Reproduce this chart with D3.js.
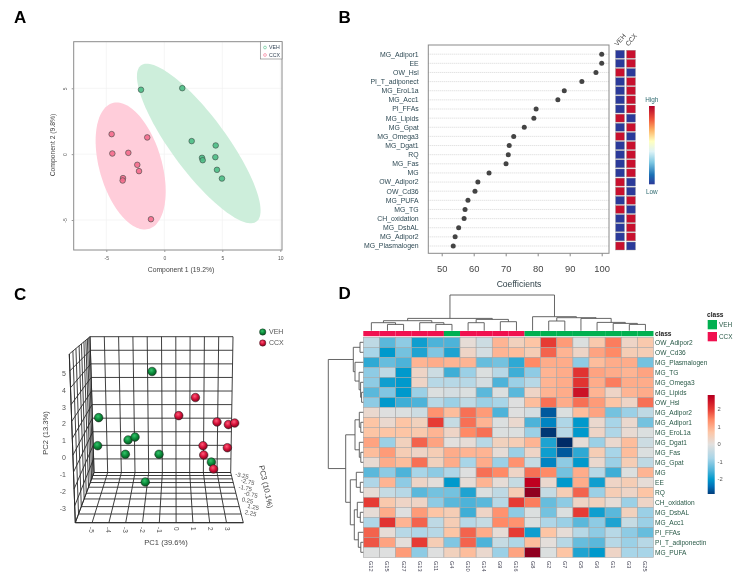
<!DOCTYPE html>
<html><head><meta charset="utf-8">
<script src="https://cdn.jsdelivr.net/npm/d3@7/dist/d3.min.js"></script>
<style>
html,body{margin:0;padding:0;background:#fff}
svg{display:block;filter:blur(0.3px)}
text{font-family:"Liberation Sans",Arial,sans-serif}
</style></head><body>
<svg id="c" width="738" height="582"></svg>
<script>
// ---------- Panel A ----------
const plsVEH=[[-2.01,4.89],[1.55,5.01],[2.36,.99],[4.43,.66],[4.40,-.23],[3.25,-.28],[3.31,-.46],[4.54,-1.19],[4.97,-1.85]];
const plsCCX=[[-4.54,1.52],[-1.47,1.27],[-4.48,.05],[-3.1,.1],[-2.33,-.81],[-2.18,-1.29],[-3.56,-1.82],[-3.59,-2],[-1.15,-4.94]];
const ellipseVEH=[2.97,.81,5.33,6.06,2.57];
const ellipseCCX=[-2.9,-.9,3.02,4.82,1.98];
const ticksAx=[-5,0,5,10];
const ticksAy=[-5,0,5];
// ---------- Panel B ----------
const vipNames=["MG_Adipor1","EE","OW_Hsl","PI_T_adiponect","MG_EroL1a","MG_Acc1","PI_FFAs","MG_Lipids","MG_Gpat","MG_Omega3","MG_Dgat1","RQ","MG_Fas","MG","OW_Adipor2","OW_Cd36","MG_PUFA","MG_TG","CH_oxidation","MG_DsbAL","MG_Adipor2","MG_Plasmalogen"];
const vipCoef=[100,100,98.2,93.8,88.3,86.3,79.5,78.8,75.8,72.5,71.1,70.8,70.1,64.8,61.3,60.4,58.2,57.3,57,55.3,54.2,53.6];
const vipVEH=[0,0,1,0,0,0,0,1,0,1,0,0,0,0,1,1,0,1,0,0,0,1];
const vipGroups=["VEH","CCX"];
const ticksB=[50,60,70,80,90,100];
// ---------- Panel C ----------
const pcaVEH=[[-1.35,5.1],[-4.49,2.37],[-4.55,.71],[-2.76,1.05],[-2.35,1.22],[-2.92,.2],[-.94,.2],[-1.75,-1.44],[2.14,-.26]];
const pcaCCX=[[1.2,3.56],[.22,2.49],[2.47,2.11],[3.14,1.96],[3.51,2.05],[1.65,.71],[3.08,.59],[1.69,.16],[2.27,-.67]];
const ticksPC1=[-5,-4,-3,-2,-1,0,1,2,3];
const ticksPC2=[-3,-2,-1,0,1,2,3,4,5];
const ticksPC3=["-3.25","-2.75","-1.75","-0.75","0.25","1.25","2.25"];
const floorDepth=[0,.06,.127,.2,.293,.413,.527,.68,.827,1];
// ---------- Panel D ----------
const heatCols=["G12","G15","G27","G13","G11","G4","G10","G14","G9","G16","G8","G2","G7","G5","G6","G1","G3","G25"];
const colClass=["CCX","CCX","CCX","CCX","CCX","VEH","CCX","CCX","CCX","CCX","VEH","VEH","VEH","VEH","VEH","VEH","VEH","VEH"];
const heatRows=["OW_Adipor2","OW_Cd36","MG_Plasmalogen","MG_TG","MG_Omega3","MG_Lipids","OW_Hsl","MG_Adipor2","MG_Adipor1","MG_EroL1a","MG_Dgat1","MG_Fas","MG_Gpat","MG","EE","RQ","CH_oxidation","MG_DsbAL","MG_Acc1","PI_FFAs","PI_T_adiponectin","MG_PUFA"];
const heatValues=[
[-.5,-1.4,-1,-1.9,-1.5,-1.5,.1,-.3,.9,.4,.7,2,1.2,-.1,.6,1.5,.3,.6],
[-.8,-2,-1.2,-1.8,-1.1,-1.8,.3,-.2,.9,.8,.5,1.7,.9,.3,1.1,1.4,.5,.5],
[-1.7,-1.3,-1.5,.9,1,.9,.9,-1.3,-1.2,-1.7,1.4,1,1,-1,.8,1,1,-1.2],
[-1,-.5,-2,.3,-.3,-1.6,-.9,-.1,-.6,-1.6,-1,.9,1,2.1,1.1,1,.9,1.1],
[-1,-1.9,-2,.3,-.6,-.6,-.6,-.2,-1.5,-.9,-.6,.9,1,2.1,1,1.5,1,1],
[-1.4,-1.1,-2,-.9,-.1,-.2,-.1,-1.4,-.1,-1.4,.3,.9,1,2.5,.9,.3,.9,1],
[-1,-2,-1.6,-1.5,-.6,-.9,-.5,-.9,-.8,-.05,.8,1.6,1,1.6,1.2,.7,.3,1.6],
[.2,-.05,-.1,-.3,1.3,.8,1.6,1.2,-1.5,-.05,-.2,-2.6,-.1,.8,1.1,-1.2,-.9,-.5],
[.7,.2,.7,.4,2,-.4,1.6,.9,-.1,.2,-1.5,-2.2,-.7,-2,.2,-.8,.2,-1.2],
[.7,.7,.7,.6,.9,.3,1.4,1.6,-.1,-.1,-.9,-2.9,-.6,-2,.3,-.7,.15,-.1],
[1.1,-.9,.4,1.7,1.1,0,.1,-.6,.4,.5,.9,-1.8,-3,.1,-.9,.2,.8,-.3],
[.8,1.2,.5,.3,.5,1,.9,.9,.1,-.9,.3,-1.9,-2.6,-1.7,.5,-.8,.8,-.1],
[.15,1,.8,1.6,.4,1,-.8,1,-.9,1.3,-.4,-2.2,-1,-2,.2,-.9,.5,-.5],
[-1.4,-1,-1.5,-.8,-1,-.7,-.05,1.6,1.4,.3,1.6,1.4,-1.2,1,-.6,-1.6,-.1,.9],
[-.7,.9,-1,.3,.05,-2,.1,.9,.1,-.4,2.7,.2,-2,1,-1.9,.3,.5,.1],
[.1,-.4,-.6,-1.4,-1.2,-1.2,-1.8,-.1,-.5,.5,3,-.4,.5,1.7,-.9,.5,.3,.7],
[2,.6,.3,.3,-1,-1.4,-1.5,-1.4,-.6,2,1.5,-1.3,-1,.3,.4,.1,-.9,.3],
[.1,1,-.05,1.2,.7,.5,-1.6,.3,1.3,-1,-.1,-1.2,-.1,2,-1.9,-1.4,.4,-.9],
[-.7,2.1,.9,1.7,-.5,.5,-.6,-.4,1.4,1.3,-.1,-.7,-.9,-1.4,-1,-1.8,-.4,-.9],
[1.7,.1,-.6,-.7,-.6,.7,1.7,1,.1,2,-1.9,.7,.1,-.6,-1,-.6,-1,-1.3],
[1.8,1.1,.05,2,.5,-1.1,1.7,-1.5,-.4,-.7,.8,.05,-.6,-1.3,-1.4,-.6,-.9,-.6],
[-.05,-.05,1.2,-1,-.05,.4,.8,.2,-.9,1.1,3,-.1,.7,-1.8,-2,.3,-.8,-.8]];
// dendrograms: [height, left, right]; a bare number is a leaf index
const colTree=[35.7,
 [12.3,[10,[8,0,[6.3,1,2]],[8,3,[6.3,4,5]]],[11.3,[8,6,7],[9,8,9]]],
 [14,10,[13,[9.7,11,12],[12.3,13,[8.3,14,[7.3,15,[6.3,16,17]]]]]]];
const rowTree=[35,
 [10,[3.3,0,1],[8.3,2,[4.2,3,[2.7,4,[1.7,5,6]]]]],
 [17.6,[8.3,[4,7,[2.5,8,9]],[4,10,[2.5,11,12]]],
  [13,[7,13,[3,14,15]],[9,[6,16,[3,17,18]],[5,19,[2.5,20,21]]]]]];
const heatDomain=[-3,-2.4,-2,-1.5,-.8,0,.7,1.4,2,2.7,3];
const heatRange=["#002b66","#0070b8","#0099cc","#4db3d9","#a8d5e8","#e2e0de","#fdc5a5","#ff8a66","#e63b34","#c00020","#900020"];
const ticksD=[-2,-1,0,1,2];
const classNames=["VEH","CCX"];
const classColors=["#00b050","#f0104f"];

const svg=d3.select("#c");
const defs=svg.append("defs");
const txt=(g,x,y,s,size,fill,opt={})=>{const t=g.append("text").attr("x",x).attr("y",y).text(s)
  .attr("font-size",size).attr("fill",fill).attr("text-anchor",opt.anchor||"start");
  if(opt.weight)t.attr("font-weight",opt.weight);
  if(opt.rot!==undefined)t.attr("transform",`rotate(${opt.rot} ${x} ${y})`);
  return t;};
[["A",14,23],["B",338.5,23],["C",14,300],["D",338.5,299]].forEach(d=>
  txt(svg,d[1],d[2],d[0],17,"#000",{weight:"bold"}));

// ===== A =====
(function(){
 const g=svg.append("g");
 const X=d3.scaleLinear().domain([-5,10]).range([106.3,280.3]);
 const Y=d3.scaleLinear().domain([-5,5]).range([220,88.3]);
 const L=73.7,R=282,T=41.7,B=250;
 ticksAx.forEach(v=>g.append("line").attr("x1",X(v)).attr("x2",X(v)).attr("y1",T).attr("y2",B).attr("stroke","#f0f0f0").attr("stroke-width",.7));
 ticksAy.forEach(v=>g.append("line").attr("y1",Y(v)).attr("y2",Y(v)).attr("x1",L).attr("x2",R).attr("stroke","#f0f0f0").attr("stroke-width",.7));
 const ell=e=>d3.line().curve(d3.curveLinearClosed)(d3.range(0,6.283,.05).map(t=>[X(e[0]+e[2]*Math.cos(t)),Y(e[1]+e[3]*Math.cos(t+e[4]))]));
 g.append("path").attr("d",ell(ellipseVEH)).attr("fill","#cdeedb");
 g.append("path").attr("d",ell(ellipseCCX)).attr("fill","#ffcdda");
 g.append("rect").attr("x",L).attr("y",T).attr("width",R-L).attr("height",B-T).attr("fill","none").attr("stroke","#8a8a8a").attr("stroke-width",1);
 const ax=g.append("g").attr("transform",`translate(0,${B})`).call(d3.axisBottom(X).tickValues(ticksAx).tickSize(2).tickFormat(d=>String(d)));
 ax.select(".domain").remove();ax.selectAll("line").attr("stroke","#999");
 ax.selectAll("text").attr("font-size",5).attr("fill","#555").attr("font-family",null).attr("dy",null).attr("y",10);
 const ay=g.append("g").attr("transform",`translate(${L},0)`).call(d3.axisLeft(Y).tickValues(ticksAy).tickSize(2).tickFormat(d=>String(d)));
 ay.select(".domain").remove();ay.selectAll("line").attr("stroke","#999");
 ay.selectAll("text").attr("font-size",5).attr("fill","#555").attr("font-family",null).attr("text-anchor","middle").attr("dy",0).attr("x",-7).attr("y",0).attr("transform","rotate(-90 -7 0)");
 [[plsVEH,"#4cbd85"],[plsCCX,"#f56b8c"]].forEach(([pts,c])=>
   g.selectAll(null).data(pts).join("circle").attr("cx",d=>X(d[0])).attr("cy",d=>Y(d[1])).attr("r",2.8)
    .attr("fill",c).attr("fill-opacity",.9).attr("stroke","#3c4a44").attr("stroke-width",.6));
 txt(g,181,272,"Component 1 (19.2%)",6.8,"#444",{anchor:"middle"});
 txt(g,54.5,145,"Component 2 (9.8%)",6.8,"#444",{anchor:"middle",rot:-90});
 g.append("rect").attr("x",260.3).attr("y",41.7).attr("width",21.7).attr("height",17.3).attr("fill","#fff").attr("stroke","#777").attr("stroke-width",.6);
 [["VEH","#4cbd85",47.5],["CCX","#f56b8c",55]].forEach(d=>{
  g.append("circle").attr("cx",265).attr("cy",d[2]).attr("r",1.4).attr("fill","#fff").attr("stroke",d[1]).attr("stroke-width",.6);
  txt(g,269,d[2]+1.9,d[0],5.2,"#345");
 });
})();

// ===== B =====
(function(){
 const g=svg.append("g");
 const L=428.3,R=609,T=45,B=253.3;
 const X=d3.scaleLinear().domain([50,100]).range([441.7,601.7]);
 const Y=d3.scalePoint().domain(vipNames.map((d,i)=>i)).range([54.2,246]);
 vipNames.forEach((n,i)=>{
  g.append("line").attr("x1",L).attr("x2",R).attr("y1",Y(i)).attr("y2",Y(i)).attr("stroke","#bdbdbd").attr("stroke-width",.6).attr("stroke-dasharray","1 1");
  txt(g,418.7,Y(i)+2.4,n,6.9,"#2f4a55",{anchor:"end"});
 });
 g.append("rect").attr("x",L).attr("y",T).attr("width",R-L).attr("height",B-T).attr("fill","none").attr("stroke","#8a8a8a").attr("stroke-width",1);
 const ax=g.append("g").attr("transform",`translate(0,${B})`).call(d3.axisBottom(X).tickValues(ticksB).tickSize(3));
 ax.select(".domain").remove();ax.selectAll("line").attr("stroke","#888");
 ax.selectAll("text").attr("font-size",9.4).attr("fill","#444").attr("font-family",null).attr("dy",null).attr("y",19);
 g.selectAll(null).data(vipCoef).join("circle").attr("cx",d=>X(d)).attr("cy",(d,i)=>Y(i)).attr("r",2.5).attr("fill","#444");
 txt(g,519,287,"Coefficients",8.6,"#2c3e46",{anchor:"middle"});
 const colX=d3.scaleBand().domain(vipGroups).range([615.5,635.5]).paddingInner(.18);
 vipNames.forEach((n,i)=>{
  vipGroups.forEach((k,j)=>{
   const hi=j===0?vipVEH[i]:1-vipVEH[i];
   g.append("rect").attr("x",colX(k)).attr("y",Y(i)-4).attr("width",colX.bandwidth()).attr("height",8)
    .attr("fill",hi?"#c8102e":"#2b3a9a").attr("stroke","#9a9a9a").attr("stroke-width",.4);
  });
 });
 vipGroups.forEach(k=>txt(g,colX(k)+2,46.5,k,6.6,"#444",{rot:-50}));
 const gr=defs.append("linearGradient").attr("id","vipBar").attr("x1",0).attr("x2",0).attr("y1",1).attr("y2",0);
 [["0","#2b3a9a"],[".12","#1a70b5"],[".28","#7ec8e3"],[".42","#dff3f6"],[".55","#ffffbf"],[".7","#fdae61"],[".83","#f0553a"],["1","#b2002a"]]
  .forEach(s=>gr.append("stop").attr("offset",s[0]).attr("stop-color",s[1]));
 g.append("rect").attr("x",649).attr("y",106).attr("width",5.7).attr("height",78.3).attr("fill","url(#vipBar)");
 txt(g,651.8,101.5,"High",6.4,"#2f6a70",{anchor:"middle"});
 txt(g,651.8,193.5,"Low",6.4,"#2f6a70",{anchor:"middle"});
})();

// ===== C =====
(function(){
 const g=svg.append("g");
 const lerp=(a,b,t)=>[a[0]+(b[0]-a[0])*t,a[1]+(b[1]-a[1])*t];
 const TL=[90,336.7],TR=[233,336.7],BL=[94,472.5],BR=[230.7,472.5],FL=[75.3,522.7],FR=[243.3,522.7],FT=[69.3,354];
 const ln=(a,b,w=.9,c="#2a2a2a")=>g.append("line").attr("x1",a[0]).attr("y1",a[1]).attr("x2",b[0]).attr("y2",b[1]).attr("stroke",c).attr("stroke-width",w);
 const div=d3.range(0,11).map(d=>d/10);
 div.forEach(t=>{
  ln(lerp(TL,TR,t),lerp(BL,BR,t));
  ln(lerp(TL,BL,t),lerp(TR,BR,t));
  ln(lerp(TL,BL,t),lerp(FT,FL,t));   // side wall rails
  ln(lerp(BL,BR,t),lerp(FL,FR,t));   // floor rails
 });
 floorDepth.forEach(t=>{
  ln(lerp(BL,FL,t),lerp(BR,FR,t));
  ln(lerp(TL,FT,t),lerp(BL,FL,t));
 });
 ln(FT,FL,1);ln(FL,FR,1);
 const X=d3.scaleLinear().domain([0,1]).range([175,192]);
 const Y=d3.scaleLinear().domain([0,1]).range([457.7,440.8]);
 ticksPC1.forEach(v=>txt(g,X(v)-1.5,527,v,6.4,"#555",{anchor:"start",rot:90}));
 ticksPC2.forEach(v=>txt(g,66,Y(v)+2.5,v,7,"#555",{anchor:"end"}));
 const ty=d3.scalePoint().domain(ticksPC3).range([476,514]);
 ticksPC3.forEach((v,i)=>txt(g,235+(i*1.6)+(i%2?4:0),ty(v),v,6,"#555",{rot:12}));
 txt(g,166,545,"PC1 (39.6%)",7.6,"#444",{anchor:"middle"});
 txt(g,48,433,"PC2 (13.3%)",7.6,"#444",{anchor:"middle",rot:-90});
 txt(g,259,466,"PC3 (10.1%)",7.6,"#444",{rot:78});
 [["g3dG","#35c46b","#0b8a3a","#05561f"],["g3dR","#ff5b78","#d30f38","#80061e"]].forEach(d=>{
  const r=defs.append("radialGradient").attr("id",d[0]).attr("cx",.42).attr("cy",.35).attr("r",.65);
  r.append("stop").attr("offset",0).attr("stop-color",d[1]);
  r.append("stop").attr("offset",.55).attr("stop-color",d[2]);
  r.append("stop").attr("offset",1).attr("stop-color",d[3]);
 });
 [[pcaVEH,"g3dG"],[pcaCCX,"g3dR"]].forEach(([pts,id])=>
  g.selectAll(null).data(pts).join("circle").attr("cx",d=>X(d[0])).attr("cy",d=>Y(d[1])).attr("r",4.3)
   .attr("fill",`url(#${id})`).attr("stroke","#1a1a1a").attr("stroke-width",.5));
 [["VEH","g3dG",332],["CCX","g3dR",343]].forEach(d=>{
  g.append("circle").attr("cx",262.7).attr("cy",d[2]).attr("r",3.2).attr("fill",`url(#${d[1]})`).attr("stroke","#222").attr("stroke-width",.4);
  txt(g,269,d[2]+2.4,d[0],7,"#555");
 });
})();

// ===== D =====
(function(){
 const g=svg.append("g");
 const X=d3.scaleBand().domain(heatCols).range([363.3,653.5]);
 const Y=d3.scaleBand().domain(heatRows.map((d,i)=>i)).range([337.3,557.3]);
 const C=d3.scaleLinear().domain(heatDomain).range(heatRange);
 heatValues.forEach((row,i)=>row.forEach((v,j)=>{
  g.append("rect").attr("x",X(heatCols[j])).attr("y",Y(i)).attr("width",X.bandwidth()).attr("height",Y.bandwidth())
   .attr("fill",C(v)).attr("stroke","#a8a8a8").attr("stroke-width",.6);
 }));
 const cc=d3.scaleOrdinal().domain(classNames).range(classColors);
 heatCols.forEach((n,j)=>{
  g.append("rect").attr("x",X(n)).attr("y",331).attr("width",X.bandwidth()).attr("height",5.2).attr("fill",cc(colClass[j]));
  txt(g,X(n)+X.bandwidth()/2-2,561,n,5.6,"#445",{rot:90});
 });
 txt(g,655,335.8,"class",6.6,"#222",{weight:"bold"});
 heatRows.forEach((n,i)=>txt(g,655,Y(i)+Y.bandwidth()/2+2.3,n,6.6,"#2a5a48"));
 // dendrograms
 const toHier=t=>typeof t==="number"?{leaf:t}:{h:t[0],children:t.slice(1).map(toHier)};
 const layout=(tree,pos)=>{
  const r=d3.hierarchy(toHier(tree));
  r.eachAfter(n=>{ if(n.children){n.p=d3.mean(n.children,c=>c.p);n.hh=n.data.h;} else {n.p=pos(n.data.leaf);n.hh=0;} });
  return r;};
 const drawTree=(root,fn)=>{ root.each(n=>{ if(!n.children)return;
   const path=d3.path();
   const a=n.children[0],b=n.children[1];
   fn(path,a.p,a.hh,n.hh,b.p,b.hh);
   g.append("path").attr("d",path.toString()).attr("fill","none").attr("stroke","#555").attr("stroke-width",.9);
 });};
 const hc=d3.scaleLinear().domain([0,36]).range([330.7,294.7]);
 drawTree(layout(colTree,i=>X(heatCols[i])+X.bandwidth()/2),(p,a,ha,h,b,hb)=>{
  p.moveTo(a,hc(ha));p.lineTo(a,hc(h));p.lineTo(b,hc(h));p.lineTo(b,hc(hb));});
 const hr=d3.scaleLinear().domain([0,35]).range([363.3,328.3]);
 drawTree(layout(rowTree,i=>Y(i)+Y.bandwidth()/2),(p,a,ha,h,b,hb)=>{
  p.moveTo(hr(ha),a);p.lineTo(hr(h),a);p.lineTo(hr(h),b);p.lineTo(hr(hb),b);});
 // legend
 txt(g,707,316.5,"class",6.6,"#222",{weight:"bold"});
 classNames.forEach((n,i)=>{
  g.append("rect").attr("x",707.7).attr("y",320+i*12).attr("width",9.3).attr("height",9.3).attr("fill",classColors[i]);
  txt(g,719,327+i*12,n,6.4,"#2a5a48");
 });
 const S=d3.scaleLinear().domain([0,1]).range([444.3,426.8]);
 const gr=defs.append("linearGradient").attr("id","heatBar").attr("x1",0).attr("x2",0).attr("y1",1).attr("y2",0);
 const lo=S.invert(494),hi=S.invert(395);
 [lo,...heatDomain.filter(v=>v>lo&&v<hi),hi].forEach(v=>gr.append("stop").attr("offset",(v-lo)/(hi-lo)).attr("stop-color",C(v)));
 g.append("rect").attr("x",707.7).attr("y",395).attr("width",7).attr("height",99).attr("fill","url(#heatBar)");
 ticksD.forEach(v=>txt(g,717.5,S(v)+2,v,5.8,"#555"));
})();
</script>
</body></html>
